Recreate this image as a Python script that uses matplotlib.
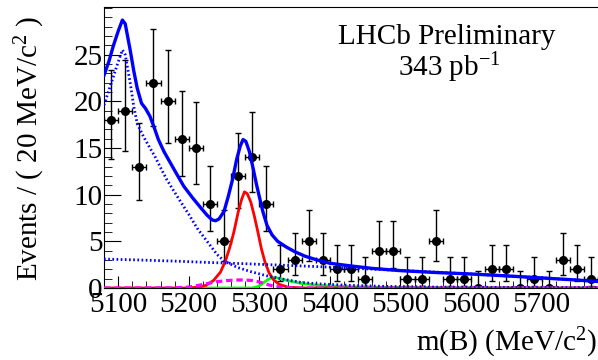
#importing libraries
import numpy as np
import matplotlib
matplotlib.use("Agg")
import matplotlib.pyplot as plt
from matplotlib.ticker import MultipleLocator, FixedLocator

plt.rcParams['font.family'] = ['Liberation Serif', 'DejaVu Serif']
plt.rcParams['mathtext.fontset'] = 'custom'
plt.rcParams['mathtext.rm'] = 'Liberation Serif'
plt.rcParams['mathtext.it'] = 'Liberation Serif:italic'

#data points (bin centres, 20 MeV bins)
bin_centres = [5090, 5110, 5130, 5150, 5170, 5190, 5210, 5230, 5250, 5270,
               5290, 5310, 5330, 5350, 5370, 5390, 5410, 5430, 5450, 5470,
               5490, 5510, 5530, 5550, 5570, 5590, 5610, 5630, 5650, 5670,
               5690, 5710, 5730, 5750, 5770]
counts = [18, 19, 13, 22, 20, 16, 15, 9, 5, 12,
          14, 9, 2, 3, 5, 3, 2, 2, 1, 4,
          4, 1, 1, 5, 1, 1, 0, 2, 2, 0,
          1, 0, 3, 2, 1]
#poisson interval ends as drawn
err_low = [13.80, 14.68, 9.45, 17.35, 15.57, 12.05, 11.17, 6.06, 2.84, 8.59,
           10.31, 6.06, 0.71, 1.37, 2.84, 1.37, 0.71, 0.71, 0.17, 2.09,
           2.09, 0.17, 0.17, 2.84, 0.17, 0.17, 0.0, 0.71, 0.71, 0.0,
           0.17, 0.0, 1.37, 0.71, 0.17]
err_high = [23.32, 24.43, 17.69, 27.76, 25.54, 21.08, 19.95, 13.10, 8.38, 16.55,
            18.83, 13.10, 4.64, 5.92, 8.38, 5.92, 4.64, 4.64, 3.30, 7.16,
            7.16, 3.30, 3.30, 8.38, 3.30, 3.30, 1.84, 4.64, 4.64, 1.84,
            3.30, 1.84, 5.92, 4.64, 3.30]

#fit curves
total_m = [5080, 5087, 5093, 5100, 5106, 5110, 5117, 5122, 5127, 5133, 5139, 5145,
           5151, 5157, 5165, 5174, 5183, 5193, 5205, 5217, 5226, 5233, 5238, 5243,
           5250, 5256, 5262, 5268, 5273, 5277, 5281, 5286, 5291, 5296, 5300, 5305,
           5311, 5318, 5326, 5338, 5350, 5365, 5382, 5400, 5430, 5460, 5500, 5550,
           5600, 5650, 5700, 5750, 5780]
total_y = [22.8, 24.3, 25.9, 27.5, 28.7, 28.3, 25.5, 23.3, 21.4, 19.8, 19.2, 18.4,
           17.2, 15.9, 14.6, 13.4, 12.2, 10.9, 9.7, 8.6, 7.8, 7.3, 7.2, 7.4,
           8.2, 9.8, 11.6, 13.8, 15.2, 15.9, 15.7, 14.6, 12.9, 11.1, 9.8, 8.2,
           6.7, 5.7, 5.0, 4.4, 3.9, 3.4, 3.0, 2.65, 2.36, 2.1, 1.86, 1.66,
           1.5, 1.3, 1.08, 0.85, 0.7]

partreco_m = [5080, 5093, 5100, 5106, 5110, 5117, 5122, 5127, 5136, 5145, 5152,
              5160, 5169, 5178, 5188, 5200, 5212, 5222, 5231, 5240, 5250, 5269,
              5288, 5311, 5335, 5359, 5382, 5430, 5477, 5550, 5650, 5780]
partreco_y = [19.6, 22.6, 24.2, 25.5, 25.0, 22.0, 19.5, 17.6, 16.2, 15.0, 14.1,
              12.9, 11.6, 10.5, 9.3, 7.9, 6.4, 5.4, 4.5, 3.6, 2.9, 2.2,
              1.75, 1.3, 0.93, 0.6, 0.45, 0.28, 0.18, 0.1, 0.06, 0.04]

comb_m = [5080, 5130, 5180, 5230, 5280, 5330, 5380, 5430, 5480, 5530, 5580,
          5630, 5680, 5730, 5780]
comb_y = [3.1, 3.0, 2.88, 2.73, 2.6, 2.45, 2.3, 2.13, 1.95, 1.77, 1.58,
          1.38, 1.17, 0.95, 0.72]

signal_m = [5080, 5200, 5215, 5225, 5235, 5245, 5252, 5258, 5264, 5270, 5275,
            5279, 5283, 5288, 5293, 5298, 5303, 5308, 5314, 5320, 5328, 5340,
            5360, 5780]
signal_y = [0.0, 0.0, 0.1, 0.3, 0.8, 1.7, 2.9, 4.3, 6.0, 8.1, 9.5,
            10.3, 10.1, 9.2, 7.7, 6.0, 4.2, 2.8, 1.6, 0.9, 0.4, 0.1,
            0.0, 0.0]

peaking_m = [5080, 5180, 5200, 5215, 5228, 5240, 5255, 5270, 5280, 5290, 5300,
             5310, 5320, 5335, 5350, 5780]
peaking_y = [0.0, 0.02, 0.1, 0.3, 0.5, 0.68, 0.8, 0.86, 0.86, 0.8, 0.65,
             0.4, 0.2, 0.05, 0.0, 0.0]

other_m = [5205, 5290, 5298, 5305, 5312, 5318, 5323, 5330, 5340, 5359, 5380,
           5400, 5430, 5470, 5550, 5780]
other_y = [0.0, 0.0, 0.15, 0.5, 0.9, 1.1, 1.12, 1.0, 0.8, 0.5, 0.32,
           0.22, 0.14, 0.08, 0.03, 0.0]

y_labels = [0, 5, 10, 15, 20, 25]

fig = plt.figure(figsize=(5.98, 3.6), dpi=100)
ax = fig.add_axes([0.174, 0.2, 0.826, 0.7806])

x = np.array(bin_centres)
y = np.array(counts)
yerr = [y - np.array(err_low), np.array(err_high) - y]
ax.errorbar(x, y, xerr=10, yerr=yerr, fmt='o', color='black', ms=5.5,
            elinewidth=1, capsize=2, capthick=1, zorder=2)

#components
ax.plot(other_m, other_y, color='#00ff00', lw=2, zorder=3)
ax.plot(signal_m, signal_y, color='red', lw=2, zorder=4)
ax.plot(peaking_m, peaking_y, color='magenta', lw=2.3, ls=(0, (2, 1.2)), zorder=5)
ax.plot(comb_m, comb_y, color='blue', lw=2, ls=(0, (0.6, 0.9)), zorder=5)
ax.plot(partreco_m, partreco_y, color='blue', lw=2, ls=(0, (0.6, 0.9)), zorder=5)
ax.plot(total_m, total_y, color='blue', lw=2.4, zorder=6)

ax.set_xlim(5080, 5780)
ax.set_ylim(0, 30.1)
ax.xaxis.set_major_locator(MultipleLocator(100))
ax.xaxis.set_minor_locator(MultipleLocator(20))
ax.yaxis.set_major_locator(FixedLocator(y_labels))
ax.yaxis.set_minor_locator(MultipleLocator(1))
ax.tick_params(which='both', direction='in', labelsize=21, top=False, right=False)
ax.tick_params(axis='x', which='major', length=9, pad=3)
ax.tick_params(axis='x', which='minor', length=5)
ax.tick_params(axis='y', which='major', length=12, pad=1)
ax.tick_params(axis='y', which='minor', length=6)
ax.spines['right'].set_visible(False)

fig.text(0.05, 0.589, 'Events / ( 20 MeV/c$^{2}$ )', rotation=90,
         ha='center', va='center', fontsize=21)
fig.text(0.998, 0.047, 'm(B) (MeV/c$^{2}$)', ha='right', va='center', fontsize=21)
fig.text(0.7475, 0.897, 'LHCb Preliminary', ha='center', va='center', fontsize=21)
fig.text(0.751, 0.811, '343 pb$^{-1}$', ha='center', va='center', fontsize=21)

fig.savefig('out.png', dpi=100)
